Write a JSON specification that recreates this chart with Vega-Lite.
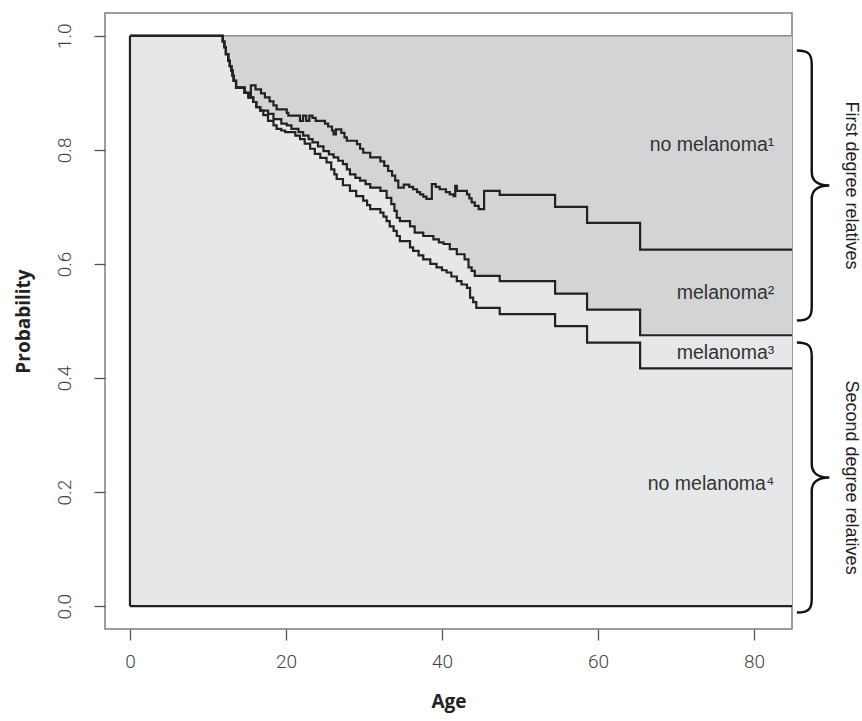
{
  "$schema": "https://vega.github.io/schema/vega-lite/v6.json",
  "autosize": {"type": "none"},
  "padding": {"left": 105, "top": 13, "right": 70, "bottom": 92},
  "width": 687,
  "height": 616,
  "background": "white",
  "config": {
    "view": {"stroke": "#7d7d7d", "strokeWidth": 1.5},
    "axis": {
      "domain": false, "grid": false, "tickColor": "#555", "tickSize": 11, "tickWidth": 1.3,
      "labelFont": "Roboto", "labelFontWeight": 300, "labelFontSize": 19, "labelColor": "#444",
      "titleFont": "Open Sans", "titleFontWeight": "bold", "titleFontSize": 19, "titleColor": "#222"
    }
  },
  "datasets": {
    "curves": [
      {"curve":"1","age":0,"p":1},{"curve":"1","age":11.9,"p":0.99},{"curve":"1","age":12.1,"p":0.98},{"curve":"1","age":12.3,"p":0.968},{"curve":"1","age":12.6,"p":0.956},{"curve":"1","age":12.8,"p":0.947},{"curve":"1","age":13.0,"p":0.939},{"curve":"1","age":13.15,"p":0.93},{"curve":"1","age":13.3,"p":0.921},{"curve":"1","age":13.6,"p":0.909},{"curve":"1","age":14.7,"p":0.9},{"curve":"1","age":15.2,"p":0.892},
      {"curve":"1","age":15.5,"p":0.913},{"curve":"1","age":16.1,"p":0.906},{"curve":"1","age":16.8,"p":0.899},{"curve":"1","age":17.3,"p":0.892},{"curve":"1","age":17.9,"p":0.885},{"curve":"1","age":18.4,"p":0.878},{"curve":"1","age":18.8,"p":0.871},{"curve":"1","age":20.1,"p":0.865},{"curve":"1","age":20.3,"p":0.86},{"curve":"1","age":21.8,"p":0.851},{"curve":"1","age":22.2,"p":0.86},{"curve":"1","age":22.6,"p":0.851},{"curve":"1","age":23.0,"p":0.86},{"curve":"1","age":23.4,"p":0.856},{"curve":"1","age":23.8,"p":0.851},{"curve":"1","age":25.0,"p":0.846},{"curve":"1","age":25.4,"p":0.841},{"curve":"1","age":25.9,"p":0.834},{"curve":"1","age":26.1,"p":0.827},{"curve":"1","age":26.4,"p":0.836},{"curve":"1","age":27.1,"p":0.83},{"curve":"1","age":27.5,"p":0.822},{"curve":"1","age":27.8,"p":0.816},{"curve":"1","age":29.1,"p":0.81},{"curve":"1","age":29.5,"p":0.802},{"curve":"1","age":29.9,"p":0.795},{"curve":"1","age":30.8,"p":0.787},{"curve":"1","age":32.1,"p":0.78},{"curve":"1","age":32.6,"p":0.772},{"curve":"1","age":33.1,"p":0.763},{"curve":"1","age":33.6,"p":0.755},{"curve":"1","age":34.0,"p":0.746},{"curve":"1","age":34.4,"p":0.734},{"curve":"1","age":35.1,"p":0.739},{"curve":"1","age":35.8,"p":0.735},{"curve":"1","age":36.3,"p":0.731},{"curve":"1","age":36.8,"p":0.726},{"curve":"1","age":37.2,"p":0.722},{"curve":"1","age":37.6,"p":0.718},{"curve":"1","age":38.0,"p":0.714},{"curve":"1","age":38.7,"p":0.74},{"curve":"1","age":39.2,"p":0.735},{"curve":"1","age":39.7,"p":0.731},{"curve":"1","age":40.5,"p":0.726},{"curve":"1","age":41.0,"p":0.722},{"curve":"1","age":41.5,"p":0.719},{"curve":"1","age":41.7,"p":0.737},{"curve":"1","age":41.9,"p":0.728},{"curve":"1","age":43.2,"p":0.722},{"curve":"1","age":43.5,"p":0.715},{"curve":"1","age":43.8,"p":0.708},{"curve":"1","age":44.2,"p":0.702},{"curve":"1","age":44.7,"p":0.696},{"curve":"1","age":45.4,"p":0.728},{"curve":"1","age":47.4,"p":0.721},{"curve":"1","age":54.5,"p":0.7},{"curve":"1","age":58.6,"p":0.672},{"curve":"1","age":65.4,"p":0.625},{"curve":"1","age":90,"p":0.625},
      {"curve":"2","age":0,"p":1},{"curve":"2","age":11.9,"p":0.99},{"curve":"2","age":12.1,"p":0.98},{"curve":"2","age":12.3,"p":0.968},{"curve":"2","age":12.6,"p":0.956},{"curve":"2","age":12.8,"p":0.947},{"curve":"2","age":13.0,"p":0.939},{"curve":"2","age":13.15,"p":0.93},{"curve":"2","age":13.3,"p":0.921},{"curve":"2","age":13.6,"p":0.909},{"curve":"2","age":14.7,"p":0.9},{"curve":"2","age":15.2,"p":0.892},
      {"curve":"2","age":15.8,"p":0.884},{"curve":"2","age":16.2,"p":0.875},{"curve":"2","age":16.7,"p":0.869},{"curve":"2","age":17.7,"p":0.863},{"curve":"2","age":18.4,"p":0.854},{"curve":"2","age":19.4,"p":0.846},{"curve":"2","age":20.1,"p":0.843},{"curve":"2","age":20.7,"p":0.837},{"curve":"2","age":21.6,"p":0.831},{"curve":"2","age":22.2,"p":0.825},{"curve":"2","age":22.9,"p":0.819},{"curve":"2","age":23.4,"p":0.813},{"curve":"2","age":24.1,"p":0.806},{"curve":"2","age":24.8,"p":0.798},{"curve":"2","age":25.5,"p":0.792},{"curve":"2","age":26.1,"p":0.787},{"curve":"2","age":26.7,"p":0.781},{"curve":"2","age":27.3,"p":0.775},{"curve":"2","age":27.8,"p":0.766},{"curve":"2","age":28.2,"p":0.757},{"curve":"2","age":28.9,"p":0.751},{"curve":"2","age":29.5,"p":0.746},{"curve":"2","age":30.2,"p":0.74},{"curve":"2","age":30.8,"p":0.734},{"curve":"2","age":32.1,"p":0.728},{"curve":"2","age":32.9,"p":0.716},{"curve":"2","age":33.5,"p":0.705},{"curve":"2","age":33.9,"p":0.693},{"curve":"2","age":34.2,"p":0.681},{"curve":"2","age":34.6,"p":0.675},{"curve":"2","age":35.9,"p":0.666},{"curve":"2","age":36.5,"p":0.655},{"curve":"2","age":37.6,"p":0.649},{"curve":"2","age":38.9,"p":0.643},{"curve":"2","age":39.6,"p":0.638},{"curve":"2","age":40.2,"p":0.635},{"curve":"2","age":41.0,"p":0.626},{"curve":"2","age":41.9,"p":0.617},{"curve":"2","age":42.9,"p":0.608},{"curve":"2","age":43.4,"p":0.594},{"curve":"2","age":43.8,"p":0.588},{"curve":"2","age":44.2,"p":0.579},{"curve":"2","age":47.4,"p":0.57},{"curve":"2","age":54.5,"p":0.548},{"curve":"2","age":58.6,"p":0.52},{"curve":"2","age":65.4,"p":0.475},{"curve":"2","age":90,"p":0.475},
      {"curve":"3","age":0,"p":1},{"curve":"3","age":11.9,"p":0.99},{"curve":"3","age":12.1,"p":0.98},{"curve":"3","age":12.3,"p":0.968},{"curve":"3","age":12.6,"p":0.956},{"curve":"3","age":12.8,"p":0.947},{"curve":"3","age":13.0,"p":0.939},{"curve":"3","age":13.15,"p":0.93},{"curve":"3","age":13.3,"p":0.921},{"curve":"3","age":13.6,"p":0.909},{"curve":"3","age":14.7,"p":0.9},{"curve":"3","age":15.2,"p":0.892},
      {"curve":"3","age":15.8,"p":0.884},{"curve":"3","age":16.2,"p":0.875},{"curve":"3","age":16.7,"p":0.869},{"curve":"3","age":17.1,"p":0.861},{"curve":"3","age":17.7,"p":0.851},{"curve":"3","age":18.4,"p":0.843},{"curve":"3","age":18.8,"p":0.837},{"curve":"3","age":19.4,"p":0.834},{"curve":"3","age":19.9,"p":0.831},{"curve":"3","age":21.2,"p":0.825},{"curve":"3","age":21.8,"p":0.819},{"curve":"3","age":22.4,"p":0.811},{"curve":"3","age":23.1,"p":0.802},{"curve":"3","age":23.7,"p":0.793},{"curve":"3","age":24.4,"p":0.786},{"curve":"3","age":25.2,"p":0.778},{"curve":"3","age":25.8,"p":0.766},{"curve":"3","age":26.2,"p":0.757},{"curve":"3","age":26.5,"p":0.749},{"curve":"3","age":27.3,"p":0.738},{"curve":"3","age":28.2,"p":0.728},{"curve":"3","age":29.0,"p":0.719},{"curve":"3","age":29.9,"p":0.711},{"curve":"3","age":30.4,"p":0.703},{"curve":"3","age":30.8,"p":0.696},{"curve":"3","age":32.1,"p":0.69},{"curve":"3","age":32.5,"p":0.683},{"curve":"3","age":32.9,"p":0.675},{"curve":"3","age":33.3,"p":0.666},{"curve":"3","age":33.8,"p":0.658},{"curve":"3","age":34.2,"p":0.649},{"curve":"3","age":34.6,"p":0.64},{"curve":"3","age":35.9,"p":0.629},{"curve":"3","age":36.3,"p":0.623},{"curve":"3","age":37.0,"p":0.615},{"curve":"3","age":37.6,"p":0.608},{"curve":"3","age":38.5,"p":0.6},{"curve":"3","age":39.3,"p":0.594},{"curve":"3","age":40.0,"p":0.589},{"curve":"3","age":40.6,"p":0.585},{"curve":"3","age":41.2,"p":0.578},{"curve":"3","age":41.9,"p":0.57},{"curve":"3","age":42.5,"p":0.564},{"curve":"3","age":43.2,"p":0.558},{"curve":"3","age":43.6,"p":0.541},{"curve":"3","age":44.0,"p":0.533},{"curve":"3","age":44.4,"p":0.523},{"curve":"3","age":47.4,"p":0.512},{"curve":"3","age":54.5,"p":0.491},{"curve":"3","age":58.6,"p":0.462},{"curve":"3","age":65.4,"p":0.417},{"curve":"3","age":90,"p":0.417}
    ],
    "labels": [
      {"label":"no melanoma¹","age":82.6,"p":0.809},
      {"label":"melanoma²","age":82.6,"p":0.549},
      {"label":"melanoma³","age":82.6,"p":0.444},
      {"label":"no melanoma⁴","age":82.6,"p":0.214}
    ],
    "braces": [
      {"age":87.4,"p":0.7375},
      {"age":87.4,"p":0.2255}
    ],
    "groups": [
      {"group":"First degree relatives","age":92.4,"p":0.7375},
      {"group":"Second degree relatives","age":92.4,"p":0.2255}
    ]
  },
  "layer": [
    {
      "data": {"values": [{}]},
      "mark": {"type": "rect", "fill": "#e6e7e9", "clip": true},
      "encoding": {
        "x": {"datum": 0, "type": "quantitative", "scale": {"domain": [-3.2, 84.87], "nice": false, "zero": false}},
        "x2": {"datum": 90},
        "y": {"datum": 0, "type": "quantitative", "scale": {"domain": [-0.04, 1.04], "nice": false, "zero": false}},
        "y2": {"datum": 1}
      }
    },
    {
      "data": {"name": "curves"},
      "transform": [{"filter": "datum.curve === '2'"}],
      "mark": {"type": "area", "interpolate": "step-after", "fill": "#d3d4d6", "clip": true},
      "encoding": {
        "x": {"field": "age", "type": "quantitative", "title": "Age",
          "axis": {"values": [0, 20, 40, 60, 80], "labelPadding": 12, "titleY": 72, "titleBaseline": "middle"}},
        "y": {"field": "p", "type": "quantitative", "title": "Probability",
          "axis": {"values": [0, 0.2, 0.4, 0.6, 0.8, 1.0], "format": ".1f", "labelAngle": -90, "labelAlign": "center", "labelBaseline": "bottom", "labelPadding": 20, "titleX": -82, "titleY": 308, "titleBaseline": "middle", "titleAlign": "center"}},
        "y2": {"datum": 1}
      }
    },
    {
      "data": {"values": [{}]},
      "mark": {"type": "rule", "color": "#8a8a8a", "strokeWidth": 1.6, "clip": true},
      "encoding": {"x": {"datum": 11.9, "type": "quantitative"}, "x2": {"datum": 90}, "y": {"datum": 1, "type": "quantitative"}}
    },
    {
      "data": {"values": [{}]},
      "mark": {"type": "rule", "color": "#222", "strokeWidth": 2.2, "clip": true},
      "encoding": {"x": {"datum": 0, "type": "quantitative"}, "x2": {"datum": 90}, "y": {"datum": 0, "type": "quantitative"}}
    },
    {
      "data": {"values": [{}]},
      "mark": {"type": "rule", "color": "#222", "strokeWidth": 2.2, "clip": true},
      "encoding": {"x": {"datum": 0, "type": "quantitative"}, "y": {"datum": 0, "type": "quantitative"}, "y2": {"datum": 1}}
    },
    {
      "data": {"name": "curves"},
      "mark": {"type": "line", "interpolate": "step-after", "color": "#222", "strokeWidth": 2.2, "clip": true},
      "encoding": {
        "x": {"field": "age", "type": "quantitative", "title": "Age"},
        "y": {"field": "p", "type": "quantitative", "title": "Probability"},
        "detail": {"field": "curve"}
      }
    },
    {
      "data": {"name": "labels"},
      "mark": {"type": "text", "align": "right", "baseline": "middle", "font": "Liberation Sans", "fontSize": 19.5, "color": "#333"},
      "encoding": {
        "x": {"field": "age", "type": "quantitative", "title": "Age"},
        "y": {"field": "p", "type": "quantitative", "title": "Probability"},
        "text": {"field": "label"}
      }
    },
    {
      "data": {"name": "braces"},
      "mark": {"type": "point", "shape": "M-0.11,-1 C-0.02,-1 0,-0.97 0,-0.9 L0,-0.1 C0,-0.03 0.05,0 0.13,0 C0.05,0 0,0.03 0,0.1 L0,0.9 C0,0.97 -0.02,1 -0.11,1", "size": 72900, "filled": false, "stroke": "#111", "strokeWidth": 2.4, "opacity": 1},
      "encoding": {
        "x": {"field": "age", "type": "quantitative", "title": "Age"},
        "y": {"field": "p", "type": "quantitative", "title": "Probability"}
      }
    },
    {
      "data": {"name": "groups"},
      "mark": {"type": "text", "angle": 90, "align": "center", "baseline": "middle", "font": "Liberation Sans", "fontSize": 18, "color": "#222"},
      "encoding": {
        "x": {"field": "age", "type": "quantitative", "title": "Age"},
        "y": {"field": "p", "type": "quantitative", "title": "Probability"},
        "text": {"field": "group"}
      }
    }
  ]
}
